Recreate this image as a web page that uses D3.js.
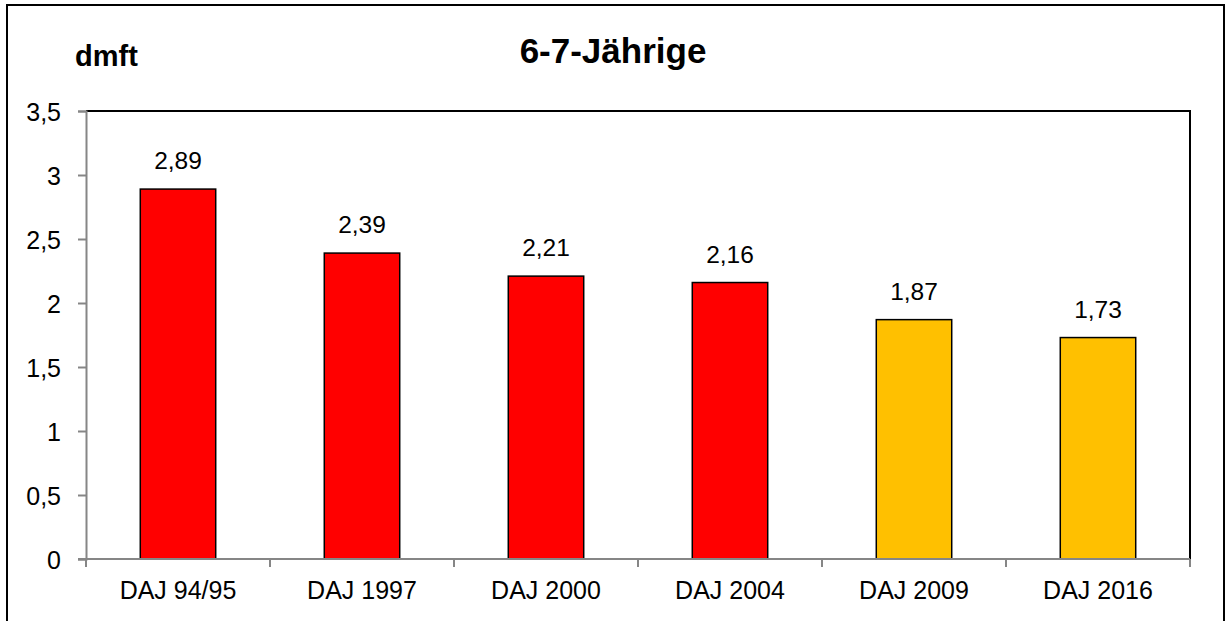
<!DOCTYPE html>
<html>
<head>
<meta charset="utf-8">
<script src="https://cdn.jsdelivr.net/npm/d3@7"></script>
<style>
  html, body { margin: 0; padding: 0; background: #fff; }
  svg { display: block; font-family: Arial, "Liberation Sans", sans-serif; }
</style>
</head>
<body>
<svg id="chart" width="1226" height="621"></svg>
<script>
// dmft values for 6-7 year olds across the DAJ surveys
const categories = ["DAJ 94/95", "DAJ 1997", "DAJ 2000", "DAJ 2004", "DAJ 2009", "DAJ 2016"];
const values = [2.89, 2.39, 2.21, 2.16, 1.87, 1.73];
const barColors = ["#FF0000", "#FF0000", "#FF0000", "#FF0000", "#FFC000", "#FFC000"];
const yTicks = [0, 0.5, 1, 1.5, 2, 2.5, 3, 3.5];
const titleText = "6-7-Jährige";
const unitText = "dmft";

const svg = d3.select("#chart");
const plot = { left: 86, right: 1190, top: 111, bottom: 559 };

const fmt = v => d3.format(".2~f")(v).replace(".", ",");

// outer frame (bottom edge runs past the canvas)
svg.append("rect")
  .attr("x", 7).attr("y", 5)
  .attr("width", 1217).attr("height", 630)
  .attr("fill", "#fff").attr("stroke", "#000").attr("stroke-width", 2);

const x = d3.scaleBand()
  .domain(categories)
  .range([plot.left, plot.right])
  .paddingInner(0.59)
  .paddingOuter(0.295);

const y = d3.scaleLinear()
  .domain([0, 3.5])
  .range([plot.bottom, plot.top]);

// plot area border: top and right in black
svg.append("path")
  .attr("d", `M${plot.left},${plot.top}H${plot.right}V${plot.bottom}`)
  .attr("fill", "none").attr("stroke", "#000").attr("stroke-width", 2);

// bars
svg.append("g").selectAll("rect")
  .data(values)
  .join("rect")
  .attr("x", (d, i) => x(categories[i]))
  .attr("y", d => y(d))
  .attr("width", x.bandwidth())
  .attr("height", d => y(0) - y(d))
  .attr("fill", (d, i) => barColors[i])
  .attr("stroke", "#000")
  .attr("stroke-width", 1.5);

// y axis
const yAxis = svg.append("g")
  .attr("transform", `translate(${plot.left},0)`)
  .attr("font-size", null)
  .attr("font-family", null)
  .call(d3.axisLeft(y).tickValues(yTicks).tickFormat(fmt).tickSize(8).tickPadding(17));
yAxis.attr("font-size", 25).attr("font-family", null);
yAxis.select(".domain").attr("stroke", "#868686").attr("stroke-width", 2);
yAxis.selectAll(".tick line").attr("stroke", "#868686").attr("stroke-width", 2);
yAxis.selectAll(".tick text")
  .attr("fill", "#000")
  .style("font-size", "25px")
  .attr("dy", "0.36em");

// x axis: ticks sit on category boundaries
const bounds = d3.range(categories.length + 1).map(i => plot.left + i * x.step());
const xAxisG = svg.append("g");
xAxisG.append("line")
  .attr("x1", plot.left - 8).attr("x2", plot.right)
  .attr("y1", plot.bottom).attr("y2", plot.bottom)
  .attr("stroke", "#868686").attr("stroke-width", 2);
xAxisG.selectAll("line.tk")
  .data(bounds)
  .join("line")
  .attr("class", "tk")
  .attr("x1", d => d).attr("x2", d => d)
  .attr("y1", plot.bottom).attr("y2", plot.bottom + 8)
  .attr("stroke", "#868686").attr("stroke-width", 2);
xAxisG.selectAll("text")
  .data(categories)
  .join("text")
  .attr("x", d => x(d) + x.bandwidth() / 2)
  .attr("y", 599)
  .attr("text-anchor", "middle")
  .style("font-size", "25px")
  .text(d => d);

// value labels above bars
svg.append("g").selectAll("text")
  .data(values)
  .join("text")
  .attr("x", (d, i) => x(categories[i]) + x.bandwidth() / 2)
  .attr("y", d => y(d) - 20)
  .attr("text-anchor", "middle")
  .style("font-size", "24.5px")
  .text(d => fmt(d));

// title and unit label
svg.append("text")
  .attr("x", 613).attr("y", 63)
  .attr("text-anchor", "middle")
  .style("font-size", "35px").style("font-weight", "bold")
  .text(titleText);

svg.append("text")
  .attr("x", 75).attr("y", 66)
  .style("font-size", "29px").style("font-weight", "bold")
  .text(unitText);
</script>
</body>
</html>
